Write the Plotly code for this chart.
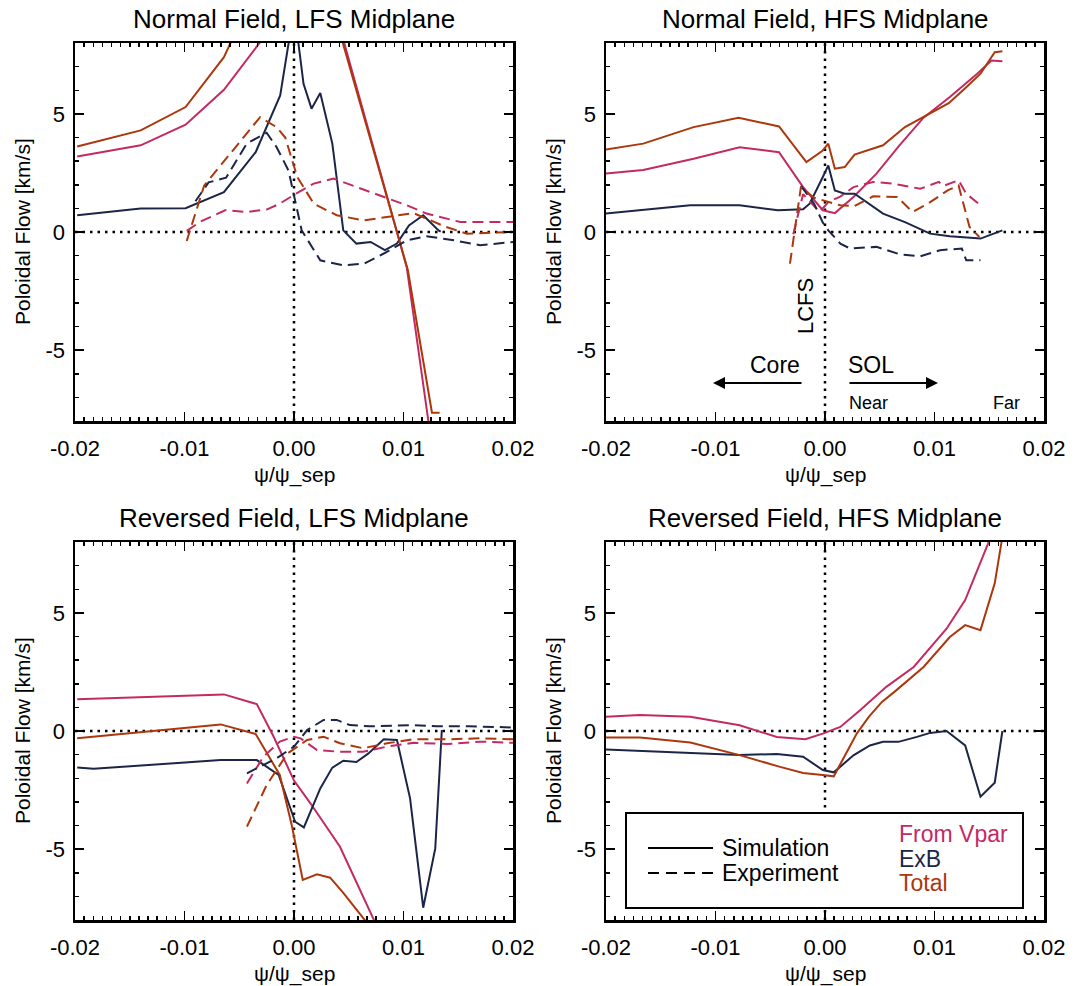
import plotly.graph_objects as go

# ---------------- data ----------------
# Panel A: Normal Field, LFS Midplane
A_vpar_sim_x = [-0.0198, -0.0140, -0.0099, -0.0064, -0.0032, -0.0010, 0.0035, 0.0046, 0.0085, 0.0103, 0.0123]
A_vpar_sim_y = [3.20, 3.67, 4.54, 6.02, 7.97, 9.3, 9.8, 8.0, 1.5, -1.5, -8.1]
A_exb_sim_x = [-0.0198, -0.0140, -0.0099, -0.0064, -0.0035, -0.00126, -0.0005, 0.0, 0.0004, 0.00087, 0.0016, 0.0024,
               0.0035, 0.0045, 0.0057, 0.0070, 0.0083, 0.0094, 0.0105, 0.0118, 0.0132, 0.0134]
A_exb_sim_y = [0.71, 0.99, 1.01, 1.69, 3.38, 5.78, 7.97, 10.0, 8.0, 6.27, 5.22, 5.88,
               3.74, 0.07, -0.49, -0.42, -0.77, -0.49, 0.28, 0.71, 0.07, 0.02]
A_tot_sim_x = [-0.0198, -0.0140, -0.0099, -0.0064, -0.0040, 0.0030, 0.00446, 0.0104, 0.0126, 0.0133]
A_tot_sim_y = [3.62, 4.30, 5.29, 7.40, 9.8, 10.3, 8.0, -1.62, -7.65, -7.65]
A_vpar_exp_x = [-0.0098, -0.0085, -0.0063, -0.0043, -0.0025, -0.0013, 0.0001, 0.0018, 0.0036, 0.0057, 0.0079,
                0.0103, 0.0121, 0.0152, 0.0200]
A_vpar_exp_y = [0.05, 0.45, 0.92, 0.85, 0.95, 1.2, 1.6, 2.05, 2.26, 1.9, 1.55, 1.13, 0.78, 0.42, 0.42]
A_exb_exp_x = [-0.0090, -0.0078, -0.0062, -0.0043, -0.0025, -0.0016, -0.0005, 0.0007, 0.0024, 0.0045, 0.0064,
               0.0082, 0.0103, 0.0121, 0.0146, 0.0170, 0.0200]
A_exb_exp_y = [1.3, 2.1, 2.3, 3.75, 4.2, 3.6, 2.6, 0.07, -1.2, -1.41, -1.34, -0.91, -0.35, -0.18, -0.35, -0.56, -0.42]
A_tot_exp_x = [-0.0098, -0.0082, -0.0031, -0.0016, -0.0008, 0.0003, 0.0018, 0.0039, 0.0064, 0.0085, 0.0109,
               0.0139, 0.0158, 0.0199]
A_tot_exp_y = [-0.38, 1.97, 4.86, 4.44, 4.0, 2.33, 1.2, 0.71, 0.49, 0.63, 0.8, 0.21, -0.07, 0.0]

# Panel B: Normal Field, HFS Midplane
B_vpar_sim_x = [-0.0201, -0.0166, -0.0120, -0.0078, -0.0042, -0.0020, -0.0002, 0.0009, 0.0026, 0.0047, 0.0068,
                0.0090, 0.0114, 0.0139, 0.0152, 0.0162]
B_vpar_sim_y = [2.47, 2.62, 3.10, 3.59, 3.38, 1.9, 0.92, 0.8, 1.48, 2.47, 3.67, 4.84, 5.71, 6.7, 7.26, 7.23]
B_exb_sim_x = [-0.0201, -0.0123, -0.0078, -0.0043, -0.0020, -0.0014, -0.0002, 0.0003, 0.0009, 0.0018, 0.0027,
               0.0053, 0.0073, 0.0096, 0.0114, 0.0142, 0.0162]
B_exb_sim_y = [0.78, 1.13, 1.13, 0.92, 0.96, 1.2, 2.33, 2.82, 1.76, 1.62, 1.62, 0.78, 0.42, -0.07, -0.18, -0.28, 0.07]
B_tot_sim_x = [-0.0201, -0.0166, -0.0120, -0.0079, -0.0042, -0.0017, -0.0002, 0.0003, 0.0009, 0.0018, 0.0027,
               0.0053, 0.0073, 0.0096, 0.0113, 0.0129, 0.0142, 0.0155, 0.0162]
B_tot_sim_y = [3.48, 3.74, 4.44, 4.84, 4.47, 2.96, 3.45, 3.74, 2.68, 2.75, 3.28, 3.67, 4.44, 5.0, 5.45, 6.13,
               6.7, 7.61, 7.65]
B_vpar_exp_x = [-0.0029, -0.0020, -0.0005, 0.0003, 0.0014, 0.0026, 0.0044, 0.0062, 0.0087, 0.0104, 0.0108,
                0.0122, 0.0129, 0.0142]
B_vpar_exp_y = [-0.1, 1.6, 0.85, 1.27, 1.5, 1.9, 2.12, 2.05, 1.83, 2.12, 1.95, 2.19, 1.62, 1.13]
B_exb_exp_x = [-0.0022, -0.0010, -0.0002, 0.0003, 0.0014, 0.0023, 0.0047, 0.0068, 0.0087, 0.0105, 0.0125,
               0.0129, 0.0142]
B_exb_exp_y = [1.95, 1.2, 0.4, 0.07, -0.49, -0.7, -0.63, -0.94, -1.03, -0.77, -0.7, -1.2, -1.2]
B_tot_exp_x = [-0.0032, -0.0022, -0.0010, 0.0003, 0.0014, 0.0027, 0.0044, 0.0066, 0.0080, 0.0094, 0.0112,
               0.0122, 0.0132, 0.0141]
B_tot_exp_y = [-1.34, 1.9, 1.45, 1.27, 1.13, 1.1, 1.51, 1.48, 0.85, 1.2, 1.76, 1.97, 0.21, -0.21]

# Panel C: Reversed Field, LFS Midplane
C_vpar_sim_x = [-0.0198, -0.0064, -0.0034, -0.0019, 0.0, 0.0015, 0.0042, 0.0075]
C_vpar_sim_y = [1.34, 1.55, 1.14, -0.2, -2.1, -3.06, -4.9, -8.2]
C_exb_sim_x = [-0.0198, -0.0183, -0.0067, -0.0034, -0.0014, 0.0001, 0.0009, 0.0024, 0.0035, 0.0045, 0.0057,
               0.0068, 0.0082, 0.0094, 0.0106, 0.0118, 0.0129, 0.0135]
C_exb_sim_y = [-1.55, -1.6, -1.23, -1.23, -1.86, -3.84, -4.08, -2.43, -1.55, -1.26, -1.31, -0.95, -0.35, -0.38,
               -2.85, -7.48, -4.97, 0.04]
C_tot_sim_x = [-0.0198, -0.0067, -0.0035, -0.0013, -0.0002, 0.0008, 0.0021, 0.0033, 0.0045, 0.0057, 0.0068]
C_tot_sim_y = [-0.31, 0.28, -0.13, -1.86, -4.0, -6.3, -6.07, -6.21, -6.85, -7.58, -8.2]
C_vpar_exp_x = [-0.0043, -0.0028, -0.0013, 0.0, 0.0006, 0.0021, 0.0042, 0.0063, 0.0085, 0.0109, 0.0140, 0.0170, 0.0200]
C_vpar_exp_y = [-2.22, -1.09, -0.45, -0.24, -0.31, -0.81, -0.88, -0.88, -0.66, -0.5, -0.55, -0.45, -0.5]
C_exb_exp_x = [-0.0043, -0.0016, 0.0, 0.0012, 0.0027, 0.0039, 0.0051, 0.0069, 0.0090, 0.0109, 0.0130, 0.0160, 0.0200]
C_exb_exp_y = [-1.79, -1.16, -0.66, 0.04, 0.47, 0.47, 0.25, 0.2, 0.22, 0.25, 0.2, 0.2, 0.15]
C_tot_exp_x = [-0.0043, -0.0025, -0.0006, 0.0012, 0.0027, 0.0042, 0.0063, 0.0085, 0.0109, 0.0140, 0.0170, 0.0200]
C_tot_exp_y = [-4.05, -2.29, -0.95, -0.38, -0.24, -0.52, -0.73, -0.52, -0.35, -0.35, -0.31, -0.35]

# Panel D: Reversed Field, HFS Midplane
D_vpar_sim_x = [-0.0201, -0.0169, -0.0123, -0.0078, -0.0044, -0.0018, -0.0002, 0.0014, 0.0032, 0.0056, 0.0081,
                0.0111, 0.0128, 0.0138, 0.0149, 0.0155]
D_vpar_sim_y = [0.6, 0.68, 0.6, 0.24, -0.25, -0.35, -0.11, 0.17, 0.88, 1.87, 2.71, 4.33, 5.54, 6.67, 7.94, 8.8]
D_exb_sim_x = [-0.0201, -0.0123, -0.0078, -0.0044, -0.0020, -0.0002, 0.0008, 0.0026, 0.0041, 0.0053, 0.0067,
               0.0084, 0.0096, 0.0111, 0.0128, 0.0142, 0.0155, 0.0162]
D_exb_sim_y = [-0.78, -0.95, -1.02, -0.97, -1.09, -1.65, -1.75, -1.03, -0.61, -0.46, -0.46, -0.25, -0.08, 0.0,
               -0.61, -2.78, -2.19, 0.0]
D_tot_sim_x = [-0.0201, -0.0169, -0.0123, -0.0078, -0.0041, -0.0020, 0.0, 0.0008, 0.0015, 0.0029, 0.0040, 0.0052,
               0.0065, 0.0090, 0.0114, 0.0128, 0.0142, 0.0155, 0.0161, 0.0163]
D_tot_sim_y = [-0.28, -0.28, -0.49, -1.02, -1.52, -1.78, -1.87, -1.92, -1.31, -0.11, 0.6, 1.23, 1.72, 2.71,
               3.98, 4.48, 4.27, 6.25, 7.94, 8.6]

titles = ["Normal Field, LFS Midplane", "Normal Field, HFS Midplane",
          "Reversed Field, LFS Midplane", "Reversed Field, HFS Midplane"]
x_tickvals = [-0.02, -0.01, 0.0, 0.01, 0.02]
x_ticktext = ["-0.02", "-0.01", "0.00", "0.01", "0.02"]
y_tickvals = [-5, 0, 5]
y_ticktext = ["-5", "0", "5"]
legend_series = ["From Vpar", "ExB", "Total"]
legend_styles = ["Simulation", "Experiment"]

# ---------------- styling ----------------
W, H = 1076, 986
OFF = 0  # page body margin is removed by the post script below
C_VPAR = "#C42A62"
C_EXB = "#1B2548"
C_TOT = "#AC370C"
FONT = "Liberation Sans, Arial, sans-serif"
DASH_EXP = "11px,6px"

# panel pixel boxes in the target picture: (left, right, top, bottom)
boxes = [(75, 513, 43, 421), (606, 1044, 43, 421), (75, 513, 542, 920), (606, 1044, 542, 920)]

fig = go.Figure()

panels = [
    [(A_vpar_sim_x, A_vpar_sim_y, C_VPAR, "solid"), (A_exb_sim_x, A_exb_sim_y, C_EXB, "solid"),
     (A_tot_sim_x, A_tot_sim_y, C_TOT, "solid"), (A_vpar_exp_x, A_vpar_exp_y, C_VPAR, DASH_EXP),
     (A_exb_exp_x, A_exb_exp_y, C_EXB, DASH_EXP), (A_tot_exp_x, A_tot_exp_y, C_TOT, DASH_EXP)],
    [(B_vpar_sim_x, B_vpar_sim_y, C_VPAR, "solid"), (B_exb_sim_x, B_exb_sim_y, C_EXB, "solid"),
     (B_tot_sim_x, B_tot_sim_y, C_TOT, "solid"), (B_vpar_exp_x, B_vpar_exp_y, C_VPAR, DASH_EXP),
     (B_exb_exp_x, B_exb_exp_y, C_EXB, DASH_EXP), (B_tot_exp_x, B_tot_exp_y, C_TOT, DASH_EXP)],
    [(C_vpar_sim_x, C_vpar_sim_y, C_VPAR, "solid"), (C_exb_sim_x, C_exb_sim_y, C_EXB, "solid"),
     (C_tot_sim_x, C_tot_sim_y, C_TOT, "solid"), (C_vpar_exp_x, C_vpar_exp_y, C_VPAR, DASH_EXP),
     (C_exb_exp_x, C_exb_exp_y, C_EXB, DASH_EXP), (C_tot_exp_x, C_tot_exp_y, C_TOT, DASH_EXP)],
    [(D_vpar_sim_x, D_vpar_sim_y, C_VPAR, "solid"), (D_exb_sim_x, D_exb_sim_y, C_EXB, "solid"),
     (D_tot_sim_x, D_tot_sim_y, C_TOT, "solid")],
]

shapes = []
annotations = []
layout_axes = {}


def dom_ref(box, X, Y):
    """convert a target-picture pixel position into panel-domain fractions"""
    l, r, t, b = box
    return (X - l) / (r - l), (b - Y) / (b - t)


def ann(n, box, text, X, Y, size, color="black", angle=0, xanchor="center"):
    xa = "x" if n == 1 else f"x{n}"
    ya = "y" if n == 1 else f"y{n}"
    fx, fy = dom_ref(box, X, Y)
    return dict(text=text, x=fx, y=fy, xref=f"{xa} domain", yref=f"{ya} domain", showarrow=False,
                xanchor=xanchor, yanchor="middle", textangle=angle,
                font=dict(family=FONT, size=size, color=color))


for i, (series, box, title) in enumerate(zip(panels, boxes, titles)):
    n = i + 1
    xa = "x" if n == 1 else f"x{n}"
    ya = "y" if n == 1 else f"y{n}"
    for sx, sy, col, dash in series:
        fig.add_trace(go.Scatter(x=sx, y=sy, mode="lines", xaxis=xa, yaxis=ya, showlegend=False,
                                 line=dict(color=col, width=2, dash=dash), hoverinfo="skip"))
    l, r, t, b = box
    common = dict(showline=True, linecolor="black", linewidth=2.5, mirror="ticks", ticks="inside",
                  ticklen=9, tickwidth=1.8, tickcolor="black", showgrid=False, zeroline=False,
                  automargin=False, tickfont=dict(family=FONT, size=22, color="black"))
    layout_axes[("xaxis" if n == 1 else f"xaxis{n}")] = dict(
        domain=[(l - OFF) / W, (r - OFF) / W], anchor=ya, range=[-0.02, 0.02],
        tickvals=x_tickvals, ticktext=x_ticktext, ticklabelstandoff=6,
        minor=dict(ticks="inside", ticklen=4, tickwidth=1.5, tickcolor="black", dtick=0.01 / 12, tick0=0,
                   showgrid=False),
        **common)
    layout_axes[("yaxis" if n == 1 else f"yaxis{n}")] = dict(
        domain=[1 - (b - OFF) / H, 1 - (t - OFF) / H], anchor=xa, range=[-8, 8],
        tickvals=y_tickvals, ticktext=y_ticktext, ticklabelstandoff=3,
        minor=dict(ticks="inside", ticklen=4, tickwidth=1.5, tickcolor="black", dtick=1, tick0=0,
                   showgrid=False),
        **common)
    # dotted zero lines
    shapes.append(dict(type="line", xref=f"{xa} domain", x0=0, x1=1, yref=ya, y0=0, y1=0,
                       line=dict(color="black", width=2.5, dash="2.5px,5px"), layer="below"))
    shapes.append(dict(type="line", xref=xa, x0=0, x1=0, yref=f"{ya} domain", y0=0, y1=1,
                       line=dict(color="black", width=2.5, dash="2.5px,5px"), layer="below"))
    cx = (l + r) / 2
    annotations.append(ann(n, box, title, cx, t - 24, 26))
    annotations.append(ann(n, box, "ψ/ψ_sep", cx, b + 54, 21))
    annotations.append(ann(n, box, "Poloidal Flow [km/s]", l - 53, (t + b) / 2, 21, angle=-90))

# text annotations on panel B
bB = boxes[1]
annotations += [
    ann(2, bB, "LCFS", 805, 306, 22, angle=-90),
    ann(2, bB, "Core", 775, 365, 23),
    ann(2, bB, "SOL", 871, 365, 23),
    ann(2, bB, "Near", 868, 403, 18),
    ann(2, bB, "Far", 1006, 403, 18),
]
for hx, dx in [(713, 90), (938, -90)]:
    fx, fy = dom_ref(bB, hx, 383)
    annotations.append(dict(text="", x=fx, y=fy, xref="x2 domain", yref="y2 domain", showarrow=True,
                            ax=dx, ay=0, arrowhead=2, arrowsize=1.2, arrowwidth=2, arrowcolor="black"))

# legend box in panel D
bD = boxes[3]


def dshape(kind, X0, Y0, X1, Y1, **kw):
    x0, y0 = dom_ref(bD, X0, Y0)
    x1, y1 = dom_ref(bD, X1, Y1)
    return dict(type=kind, xref="x4 domain", yref="y4 domain", x0=x0, y0=y0, x1=x1, y1=y1, layer="above", **kw)


shapes.append(dshape("rect", 626, 908, 1023, 813, fillcolor="white", line=dict(color="black", width=2)))
shapes.append(dshape("line", 648, 848, 713, 848, line=dict(color="black", width=2)))
shapes.append(dshape("line", 648, 873, 713, 873, line=dict(color="black", width=2, dash="11px,7px")))
for txt, yy in zip(legend_styles, [848, 873]):
    annotations.append(ann(4, bD, txt, 720, yy, 23, xanchor="left"))
for txt, yy, col in zip(legend_series, [834, 859, 883], [C_VPAR, C_EXB, C_TOT]):
    annotations.append(ann(4, bD, txt, 897, yy, 23, color=col, xanchor="left"))

fig.update_layout(width=W, height=H, autosize=False, margin=dict(l=0, r=0, t=0, b=0, pad=0),
                  paper_bgcolor="white", plot_bgcolor="white", shapes=shapes, annotations=annotations,
                  showlegend=False, hovermode=False, **layout_axes)

fig.write_html("out.html", config={"displayModeBar": False, "staticPlot": True},
               post_script="document.body.style.margin='0px';")
